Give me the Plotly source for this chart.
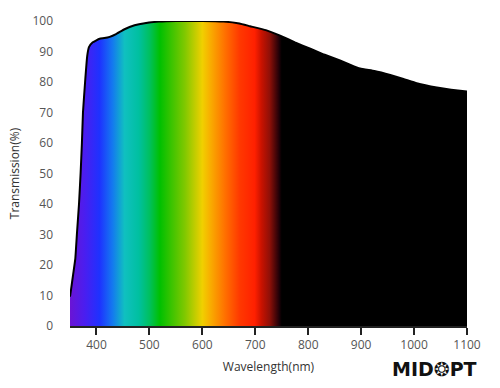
import plotly.graph_objects as go

wavelength = [350, 352, 356, 360, 363, 367, 370, 372.5, 374.5, 378.5, 382.5, 386, 393, 399, 406, 415, 425, 437, 453, 472, 491, 518, 550, 600, 640, 670, 690, 720, 747, 775, 804, 830, 860, 880, 898, 925, 955, 980, 1005, 1043, 1070, 1100]
transmission = [9.6, 12, 17, 22, 30, 40, 50, 60, 70, 80, 88.5, 91.5, 93, 93.6, 94.2, 94.4, 94.8, 95.7, 97.3, 98.6, 99.3, 99.8, 100, 100, 99.8, 99.2, 98.3, 97, 95.2, 93, 90.9, 89, 87.1, 85.6, 84.4, 83.6, 82.3, 81, 79.6, 78.2, 77.5, 76.9]

spectrum_nm = [350, 378, 406, 430, 453, 480, 500, 520, 567, 600, 614, 643, 671, 699, 712, 727, 745, 750, 1100]
spectrum_colors = ["#6a14d4", "#4a1ef0", "#1e32ff", "#1478f0", "#10c0c0", "#00c0a0", "#00c060", "#00c000",
                   "#80c800", "#f0d000", "#f8b000", "#ff7000", "#ff3800", "#ff2000", "#c81200", "#901008",
                   "#200008", "#000000", "#000000"]

x_ticks = [400, 500, 600, 700, 800, 900, 1000, 1100]
y_ticks = [0, 10, 20, 30, 40, 50, 60, 70, 80, 90, 100]

lo, hi = spectrum_nm[0], spectrum_nm[-1]
colorscale = [[(w - lo) / (hi - lo), c] for w, c in zip(spectrum_nm, spectrum_colors)]

fig = go.Figure()
fig.add_trace(go.Scatter(
    x=wavelength, y=transmission, mode="lines",
    line=dict(color="black", width=2, shape="spline", smoothing=0.3),
    fill="tozeroy",
    fillgradient=dict(type="horizontal", colorscale=colorscale, start=lo, stop=hi),
    hoverinfo="skip", showlegend=False,
))

font_family = "Open Sans, DejaVu Sans, sans-serif"
fig.update_layout(
    width=500, height=388,
    margin=dict(l=70, r=33, t=15, b=62),
    paper_bgcolor="white", plot_bgcolor="white",
    font=dict(family=font_family, size=12, color="#555"),
    xaxis=dict(
        range=[350, 1100], tickvals=x_ticks, ticks="outside", ticklen=7, tickwidth=1.5,
        tickcolor="#222", showline=True, linecolor="#222", linewidth=1.5, showgrid=False,
        zeroline=False, tickfont=dict(size=12, color="#555"),
        title=dict(text="Wavelength(nm)", font=dict(size=12, color="#333"), standoff=10),
    ),
    yaxis=dict(
        range=[0, 100], tickvals=y_ticks, showline=False, showgrid=False, zeroline=False,
        ticks="", ticklabelstandoff=16, tickfont=dict(size=12, color="#555"),
        title=dict(text="Transmission(%)", font=dict(size=12, color="#333"), standoff=10),
    ),
    annotations=[dict(
        text="<b>MID❂PT</b>", xref="paper", yref="paper", x=1.03, y=-0.14,
        xanchor="right", yanchor="middle", showarrow=False,
        font=dict(family="DejaVu Sans, sans-serif", size=19, color="#111"),
    )],
)

fig.write_html("out.html")
